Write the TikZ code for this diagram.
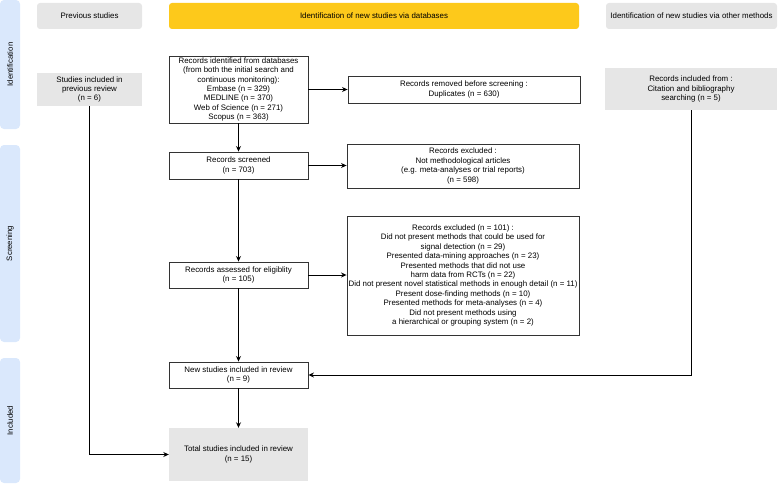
\documentclass[tikz,border=0pt]{standalone}
\usepackage{fontspec}
\setmainfont{Liberation Sans}
\usepackage{tikz}
\usetikzlibrary{arrows.meta, positioning}
\definecolor{fasecolor}{RGB}{218,232,252}
\definecolor{grisclaro}{RGB}{230,230,230}
\definecolor{amarillo}{RGB}{253,201,27}
\definecolor{borde}{RGB}{51,51,51}
\tikzstyle{fase} = [fill=fasecolor, rounded corners=4pt, rotate=90, minimum height=20pt, inner sep=0pt, font=\fontsize{7.8}{9}\selectfont]
\tikzstyle{cabecera} = [fill=grisclaro, rounded corners=3pt, minimum height=26pt, inner sep=0pt, font=\fontsize{7.9}{9}\selectfont]
\tikzstyle{registro} = [draw=borde, line width=0.9pt, fill=white, align=center, inner sep=0pt, font=\fontsize{7.9}{9.45}\selectfont]
\tikzstyle{gris} = [fill=grisclaro, align=center, inner sep=0pt, font=\fontsize{7.9}{9.45}\selectfont]
\tikzstyle{flecha} = [draw=black, line width=0.9pt, -{Stealth[length=5.5pt,width=5pt]}]

\begin{document}
\begin{tikzpicture}[x=1pt, y=-1pt]
	\useasboundingbox (0,0) rectangle (778,484);
	% fases
	\node[fase, minimum width=129pt] (idfase) at (10,64.5) {Identification};
	\node[fase, minimum width=197pt] (scrfase) at (10,243.5) {Screening};
	\node[fase, minimum width=125pt] (incfase) at (10,420.5) {Included};
	% cabeceras
	\node[cabecera, minimum width=105pt] (previas) at (89.5,16) {Previous studies};
	\node[cabecera, fill=amarillo, minimum width=410pt] (bases) at (374,16) {Identification of new studies via databases};
	\node[cabecera, minimum width=171pt] (otros) at (691.5,16) {Identification of new studies via other methods};
	% cajas
	\node[gris, minimum width=105pt, minimum height=33pt] (prevrev) at (89.5,89.5) {Studies included in\\previous review\\(n = 6)};
	\node[registro, minimum width=139pt, minimum height=67pt] (ident) at (238.5,89.5) {Records identified from databases\\(from both the initial search and\\continuous monitoring):\\Embase (n = 329)\\MEDLINE (n = 370)\\Web of Science (n = 271)\\Scopus (n = 363)};
	\node[registro, minimum width=232pt, minimum height=27pt] (removed) at (464,89.5) {Records removed before screening :\\Duplicates (n = 630)};
	\node[gris, minimum width=172pt, minimum height=42pt] (otrorec) at (691,89) {Records included from :\\Citation and bibliography\\searching (n = 5)};
	\node[registro, minimum width=139pt, minimum height=27pt] (screened) at (238.5,165.5) {Records screened\\(n = 703)};
	\node[registro, minimum width=232pt, minimum height=44pt] (excl1) at (463,166) {Records excluded :\\Not methodological articles\\(e.g. meta-analyses or trial reports)\\(n = 598)};
	\node[registro, minimum width=139pt, minimum height=26pt] (assessed) at (238.5,275) {Records assessed for eligiblity\\(n = 105)};
	\node[registro, minimum width=232pt, minimum height=119pt] (excl2) at (463,275.5) {Records excluded (n = 101) :\\Did not present methods that could be used for\\signal detection (n = 29)\\Presented data-mining approaches (n = 23)\\Presented methods that did not use\\harm data from RCTs (n = 22)\\Did not present novel statistical methods in enough detail (n = 11)\\Present dose-finding methods (n = 10)\\Presented methods for meta-analyses (n = 4)\\Did not present methods using\\a hierarchical or grouping system (n = 2)};
	\node[registro, minimum width=139pt, minimum height=26pt] (nuevos) at (238.5,375) {New studies included in review\\(n = 9)};
	\node[gris, minimum width=139pt, minimum height=53pt] (total) at (238.5,454.5) {Total studies included in review\\(n = 15)};
	% flechas
	\draw[flecha] (ident) -- (removed);
	\draw[flecha] (ident) -- (screened);
	\draw[flecha] (screened) -- (excl1.west |- screened);
	\draw[flecha] (screened) -- (assessed);
	\draw[flecha] (assessed) -- (excl2.west |- assessed);
	\draw[flecha] (assessed) -- (nuevos);
	\draw[flecha] (nuevos) -- (total);
	\draw[flecha] (prevrev.south) |- (total.west);
	\draw[flecha] (otrorec.south) |- (nuevos.east);
\end{tikzpicture}
\end{document}
